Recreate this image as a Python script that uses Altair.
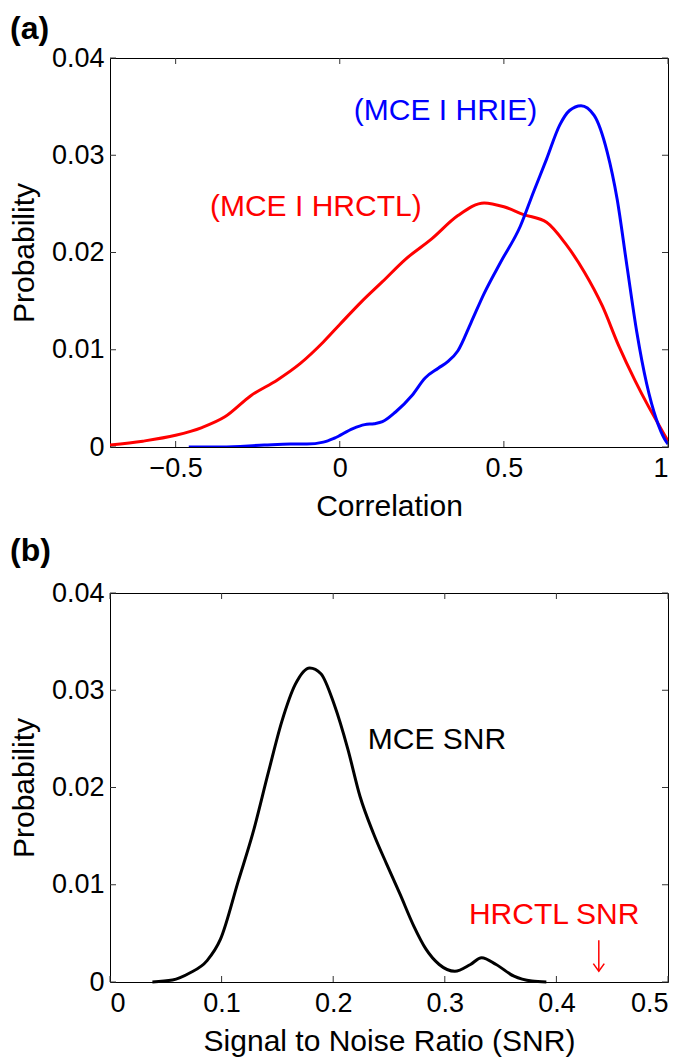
import altair as alt
import pandas as pd

# ---------------- data ----------------
red_x = [-0.70, -0.60, -0.50, -0.42, -0.35, -0.27, -0.19, -0.12, -0.05, 0.0, 0.065, 0.13,
         0.20, 0.28, 0.36, 0.44, 0.50, 0.56, 0.63, 0.69, 0.745, 0.80, 0.85, 0.90, 0.94, 0.97, 1.0]
red_y = [0.0002, 0.0006, 0.0012, 0.0020, 0.0031, 0.0053, 0.0069, 0.0086, 0.0108, 0.0126, 0.0149, 0.0170,
         0.0193, 0.0214, 0.0238, 0.0251, 0.0247, 0.0239, 0.0231, 0.0208, 0.0180, 0.0145, 0.0104, 0.0068,
         0.0042, 0.0024, 0.0006]

blue_x = [-0.46, -0.36, -0.23, -0.15, -0.10, -0.05, -0.017, 0.04, 0.076, 0.105, 0.13, 0.17, 0.22, 0.26,
          0.30, 0.33, 0.36, 0.40, 0.44, 0.49, 0.55, 0.59, 0.63, 0.67, 0.70, 0.735, 0.775, 0.815, 0.845,
          0.875, 0.905, 0.935, 0.965, 0.99, 1.0]
blue_y = [0.0, 0.0, 0.0002, 0.0003, 0.0003, 0.0005, 0.0009, 0.0019, 0.0023, 0.0024, 0.0026, 0.0036, 0.0053,
          0.0071, 0.0081, 0.0088, 0.0099, 0.0128, 0.0158, 0.0190, 0.0227, 0.0262, 0.0296, 0.0331, 0.0346,
          0.0351, 0.0341, 0.0303, 0.0255, 0.0186, 0.0118, 0.0065, 0.0028, 0.0008, 0.0003]

snr_x = [0.038, 0.056, 0.071, 0.087, 0.099, 0.115, 0.128, 0.142, 0.154, 0.166, 0.179, 0.189, 0.201, 0.213,
         0.224, 0.236, 0.248, 0.260, 0.272, 0.283, 0.295, 0.309, 0.323, 0.333, 0.346, 0.362, 0.378, 0.391]
snr_y = [0.0, 0.0002, 0.0009, 0.0022, 0.0044, 0.0104, 0.0153, 0.0216, 0.0268, 0.0306, 0.0323, 0.0317, 0.0285,
         0.0240, 0.0191, 0.0153, 0.0121, 0.0090, 0.0058, 0.0034, 0.0018, 0.0011, 0.0018, 0.0025, 0.0018,
         0.0006, 0.0001, 0.0]

series_a = ["(MCE I HRCTL)", "(MCE I HRIE)"]
colors_a = ["#ff0000", "#0000ff"]

ann_a_text = ["(MCE I HRIE)", "(MCE I HRCTL)"]
ann_a_x = [0.322, -0.073]
ann_a_y = [0.0345, 0.0247]
ann_a_col = ["#0000ff", "#ff0000"]

ann_b_text = ["MCE SNR", "HRCTL SNR"]
ann_b_x = [0.293, 0.398]
ann_b_y = [0.0249, 0.0069]
ann_b_col = ["#000000", "#ff0000"]

arrow_x = [0.438]
arrow_y_top = [0.0043]
arrow_y_tip = [0.0011]

xticks_a = [-0.5, 0, 0.5, 1]
xticks_b = [0, 0.1, 0.2, 0.3, 0.4, 0.5]
yticks = [0, 0.01, 0.02, 0.03, 0.04]

W, H = 558, 389
FONT = "Liberation Sans"
TICK = 6


def inner_ticks(xt, yt, xscale, yscale):
    dfx = pd.DataFrame({"x": xt})
    dfy = pd.DataFrame({"y": yt})
    base_x = alt.Chart(dfx).mark_rule(color="#333333", strokeWidth=1)
    base_y = alt.Chart(dfy).mark_rule(color="#333333", strokeWidth=1)
    xs = alt.X("x:Q", scale=xscale)
    ys = alt.Y("y:Q", scale=yscale)
    return [
        base_x.encode(x=xs, y=alt.value(H), y2=alt.value(H - TICK)),
        base_x.encode(x=xs, y=alt.value(0), y2=alt.value(TICK)),
        base_y.encode(y=ys, x=alt.value(0), x2=alt.value(TICK)),
        base_y.encode(y=ys, x=alt.value(W), x2=alt.value(W - TICK)),
    ]


def panel_label(txt, dy):
    return alt.Chart(pd.DataFrame({"l": [txt]})).mark_text(
        align="left", baseline="top", fontSize=32, fontWeight="bold", font=FONT, color="black"
    ).encode(x=alt.value(-100), y=alt.value(dy), text="l:N")


def x_axis(vals):
    return alt.Axis(values=vals, format="~g", ticks=False, domain=False, grid=False,
                    labelPadding=8, titlePadding=10)


y_axis = alt.Axis(values=yticks, format="~g", ticks=False, domain=False, grid=False,
                  labelPadding=6, titlePadding=12)

# ---------------- panel (a) ----------------
xs_a = alt.Scale(domain=[-0.7, 1], nice=False, zero=False)
ys = alt.Scale(domain=[0, 0.04], nice=False)

df_a = pd.concat([
    pd.DataFrame({"x": red_x, "y": red_y, "s": series_a[0]}),
    pd.DataFrame({"x": blue_x, "y": blue_y, "s": series_a[1]}),
])

lines_a = alt.Chart(df_a).mark_line(strokeWidth=3, interpolate="monotone", clip=True).encode(
    x=alt.X("x:Q", scale=xs_a, title="Correlation", axis=x_axis(xticks_a)),
    y=alt.Y("y:Q", scale=ys, title="Probability", axis=y_axis),
    color=alt.Color("s:N", scale=alt.Scale(domain=series_a, range=colors_a), legend=None),
    detail="s:N",
)

ann_a = alt.Chart(pd.DataFrame({"x": ann_a_x, "y": ann_a_y, "t": ann_a_text, "c": ann_a_col})).mark_text(
    fontSize=30, font=FONT, align="center", baseline="middle"
).encode(
    x=alt.X("x:Q", scale=xs_a), y=alt.Y("y:Q", scale=ys), text="t:N",
    color=alt.Color("c:N", scale=None),
)

panel_a = alt.layer(lines_a, ann_a, *inner_ticks(xticks_a, yticks, xs_a, ys),
                    panel_label("(a)", -44)).properties(width=W, height=H)

# ---------------- panel (b) ----------------
xs_b = alt.Scale(domain=[0, 0.5], nice=False)

line_b = alt.Chart(pd.DataFrame({"x": snr_x, "y": snr_y})).mark_line(
    strokeWidth=3, interpolate="monotone", color="black"
).encode(
    x=alt.X("x:Q", scale=xs_b, title="Signal to Noise Ratio (SNR)", axis=x_axis(xticks_b)),
    y=alt.Y("y:Q", scale=ys, title="Probability", axis=y_axis),
)

ann_b = alt.Chart(pd.DataFrame({"x": ann_b_x, "y": ann_b_y, "t": ann_b_text, "c": ann_b_col})).mark_text(
    fontSize=30, font=FONT, align="center", baseline="middle"
).encode(
    x=alt.X("x:Q", scale=xs_b), y=alt.Y("y:Q", scale=ys), text="t:N",
    color=alt.Color("c:N", scale=None),
)

arrow_df = pd.DataFrame({"x": arrow_x, "y": arrow_y_top, "y2": arrow_y_tip})
shaft = alt.Chart(arrow_df).mark_rule(color="#ff0000", strokeWidth=1.5).encode(
    x=alt.X("x:Q", scale=xs_b), y=alt.Y("y:Q", scale=ys), y2="y2:Q"
)
head = alt.Chart(pd.DataFrame({"x": arrow_x, "y": arrow_y_tip})).mark_point(
    shape="M-1,-1.4L0,0L1,-1.4", filled=False, size=120, color="#ff0000", strokeWidth=1.5, opacity=1
).encode(x=alt.X("x:Q", scale=xs_b), y=alt.Y("y:Q", scale=ys))

panel_b = alt.layer(line_b, ann_b, shaft, head, *inner_ticks(xticks_b, yticks, xs_b, ys),
                    panel_label("(b)", -57)).properties(width=W, height=H)

chart = alt.vconcat(panel_a, panel_b, spacing=12).properties(
    padding={"left": 0, "top": 4, "right": 5, "bottom": 5}
).configure_view(stroke="black", strokeWidth=1).configure_axis(
    labelFont=FONT, titleFont=FONT, labelFontSize=27, titleFontSize=30,
    titleFontWeight="normal", labelColor="black", titleColor="black",
).configure_concat(spacing=12)

chart.save("out.html", embed_options={"renderer": "svg", "actions": False})
